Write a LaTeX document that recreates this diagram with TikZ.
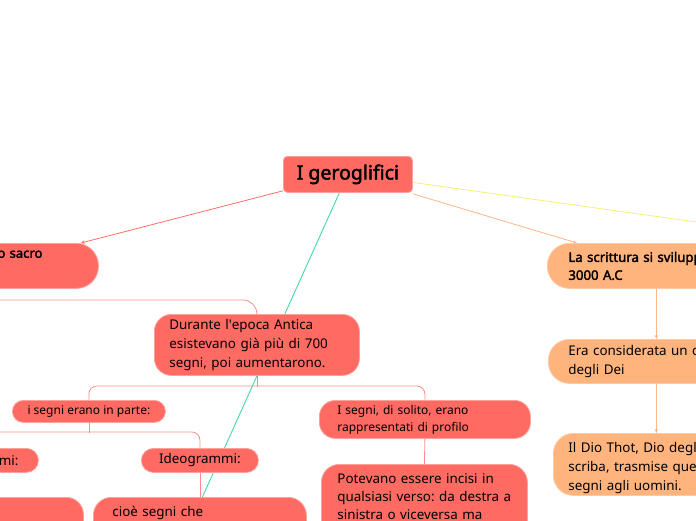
\documentclass[tikz,border=0pt]{standalone}
\usepackage{fontspec}
\setmainfont{Noto Sans}
\newfontfamily\nbold{Noto Sans}[FakeBold=2.2]
\usetikzlibrary{arrows.meta}
\pgfdeclarelayer{background}
\pgfsetlayers{background,main}
\frenchspacing
\newcommand\apos{\XeTeXglyph\XeTeXcharglyph"27\relax}
\definecolor{redfill}{HTML}{FF6B63}
\definecolor{redborder}{HTML}{FFA09B}
\definecolor{redline}{HTML}{FF6F68}
\definecolor{treeline}{HTML}{FF8E88}
\definecolor{orfill}{HTML}{FFB47E}
\definecolor{orborder}{HTML}{FFC9A3}
\definecolor{orline}{HTML}{FFB48A}
\definecolor{tealline}{HTML}{45D6A8}
\definecolor{yelline}{HTML}{F4EE7A}
\tikzset{
  base/.style={anchor=north west, inner ysep=0pt, line width=0.8pt, text=black},
  redbox/.style={base, draw=redborder, fill=redfill},
  orbox/.style={base, draw=orborder, fill=orfill},
  bodytext/.style={font=\fontsize{13.4}{19}\selectfont},
  smalltext/.style={font=\fontsize{12}{17}\selectfont},
  tree/.style={draw=treeline, line width=0.8pt},
  tip/.style={-{Stealth[length=4pt,width=3.5pt]}},
}
\begin{document}
\begin{tikzpicture}[x=1pt,y=-1pt]
\useasboundingbox (0,0) rectangle (696,520);
\clip (0,0) rectangle (696,520);
\node[redbox, rounded corners=4pt, minimum width=129pt, minimum height=36pt,
      font=\fontsize{19.5}{22}\selectfont\nbold] (T) at (283,156) {I geroglifici};
\node[redbox, rounded corners=22pt, minimum width=398pt, minimum height=45pt,
      inner xsep=56pt, text width=286pt, align=right,
      font=\fontsize{13}{18}\selectfont\nbold] (L) at (-300,243) {o sacro\\\strut};
\node[redbox, bodytext, rounded corners=17pt, minimum width=205pt, minimum height=61pt,
      inner xsep=15pt, text width=175pt, align=left] (D) at (154,314)
      {Durante l\apos epoca Antica\\esistevano già più di 700\\segni, poi aumentarono.};
\node[redbox, smalltext, rounded corners=11pt, minimum width=153pt, minimum height=22pt] (S1) at (12,400)
      {i segni erano in parte:};
\node[redbox, smalltext, rounded corners=16pt, minimum width=211pt, minimum height=38pt,
      inner xsep=18pt, text width=175pt, align=left] (S2) at (319,400)
      {I segni, di solito, erano\\rappresentati di profilo};
\node[redbox, bodytext, rounded corners=12pt, minimum width=158pt, minimum height=24pt,
      inner xsep=20pt, text width=118pt, align=right] (P) at (-120,448) {mi:};
\node[redbox, bodytext, rounded corners=12pt, minimum width=117pt, minimum height=24pt] (I) at (141,448)
      {Ideogrammi:};
\node[redbox, rounded corners=17pt, minimum width=203pt, minimum height=60pt] (B) at (-120,497) {};
\node[redbox, bodytext, rounded corners=18pt, minimum width=213pt, inner ysep=9pt,
      inner xsep=19pt, text width=175pt, align=left] (C) at (93,497)
      {cioè segni che\\\strut\\\strut};
\node[redbox, font=\fontsize{13.4}{18}\selectfont, rounded corners=18pt, minimum width=206pt, inner ysep=9pt,
      inner xsep=16pt, text width=174pt, align=left] (V) at (321,464)
      {Potevano essere incisi in\\qualsiasi verso: da destra a\\sinistra o viceversa ma\\\strut};
\node[orbox, rounded corners=22pt, minimum width=300pt, minimum height=45pt,
      inner xsep=21pt, text width=258pt, align=left,
      font=\fontsize{13.2}{18}\selectfont\nbold] (O) at (547,243)
      {La scrittura si sviluppò intorno al\\3000 A.C};
\node[orbox, bodytext, rounded corners=21pt, minimum width=216pt, minimum height=44pt,
      inner xsep=20pt, text width=176pt, align=left] (E) at (548,339)
      {Era considerata un dono\\degli Dei};
\node[orbox, bodytext, rounded corners=20pt, minimum width=206pt, minimum height=62pt,
      inner xsep=15pt, text width=176pt, align=left] (F) at (553,433)
      {\rule{0pt}{17pt}Il Dio Thot, Dio degli\\scriba, trasmise questi\\segni agli uomini.};
\coordinate (Y) at (800,236.5);
\begin{pgfonlayer}{background}
  \clip (0,0) rectangle (696,520);
  \draw[redline, line width=0.8pt, tip] ([yshift=2pt]T.south west) -- ([xshift=-18pt]L.north east);
  \draw[orline, line width=0.8pt, tip] ([yshift=-1pt]T.south east) -- ([xshift=30pt]O.north west);
  \draw[yelline, line width=0.8pt] ([yshift=-8pt]T.east) -- (Y);
  \draw[tealline, line width=0.9pt] ([xshift=-8.5pt]T.south) -- ([xshift=2.5pt]C.north);
  \draw[tree] (L.south) |- ([xshift=-14pt,yshift=14pt]D.north) to[out=0,in=90] (D.north);
  \draw[tree] (D.south) -- ++(0,11);
  \draw[tree, rounded corners=8pt] (S1.north) -- ++(0,-14) -| (S2.north);
  \draw[tree] (S1.south) -- ++(0,10);
  \draw[tree, rounded corners=8pt] (P.north) -- ++(0,-16) -| (I.north);
  \draw[tree] (I.south) -- (C.north);
  \draw[tree] (S2.south) -- (V.north);
  \draw[orline, line width=0.8pt, tip] (E.north |- O.south) -- (E.north);
  \draw[orline, line width=0.8pt, tip] (E.south) -- (F.north);
\end{pgfonlayer}
\end{tikzpicture}
\end{document}
